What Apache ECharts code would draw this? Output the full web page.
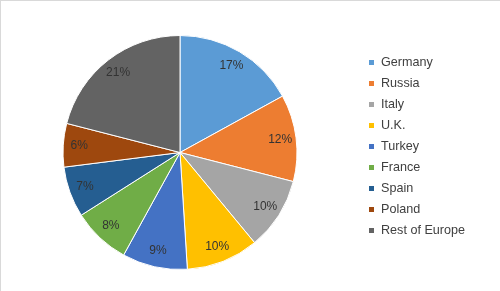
<!DOCTYPE html>
<html>
<head>
<meta charset="utf-8">
<style>html,body{margin:0;padding:0;background:#fff;}#c{width:500px;height:291px;}</style>
<script src="https://cdn.jsdelivr.net/npm/echarts@6/dist/echarts.min.js"></script>
</head>
<body>
<div id="c"></div>
<script>
const categories = ['Germany','Russia','Italy','U.K.','Turkey','France','Spain','Poland','Rest of Europe'];
const shares = [17,12,10,10,9,8,7,6,21];
const colors = ['#5B9BD5','#ED7D31','#A5A5A5','#FFC000','#4472C4','#70AD47','#255E91','#9E480E','#636363'];

const chart = echarts.init(document.getElementById('c'), null, {renderer:'canvas'});
const data = categories.map((n,i)=>({name:n, value:shares[i], itemStyle:{color:colors[i]}}));
const labelData = categories.map((n,i)=>({name:n, value:shares[i]}));
chart.setOption({
  animation:false,
  color: colors,
  legend:{
    orient:'vertical', left:362, top:51, itemWidth:7, itemHeight:7, itemGap:8,
    icon:'rect',
    textStyle:{fontFamily:'Liberation Sans', fontSize:12.6, color:'#404040', padding:[0,0,0,1], lineHeight:13},
    data: categories
  },
  graphic:[
    {type:'line', shape:{x1:0,y1:0.5,x2:500,y2:0.5}, style:{stroke:'#d9d9d9', lineWidth:1}},
    {type:'line', shape:{x1:0.5,y1:0,x2:0.5,y2:291}, style:{stroke:'#d9d9d9', lineWidth:1}}
  ],
  series:[
    {
      type:'pie', center:[180,152.5], radius:[0,117], startAngle:90, clockwise:true,
      silent:true, label:{show:false}, labelLine:{show:false},
      itemStyle:{borderColor:'#fff', borderWidth:1},
      data: data
    },
    {
      type:'pie', center:[180,152.5], radius:[78,118], startAngle:90, clockwise:true,
      silent:true, legendHoverLink:false,
      itemStyle:{color:'rgba(0,0,0,0)'},
      label:{show:true, position:'inside', formatter:'{c}%', fontFamily:'Liberation Sans', fontSize:12, color:'#333'},
      labelLine:{show:false},
      data: labelData
    }
  ]
});
</script>
</body>
</html>
